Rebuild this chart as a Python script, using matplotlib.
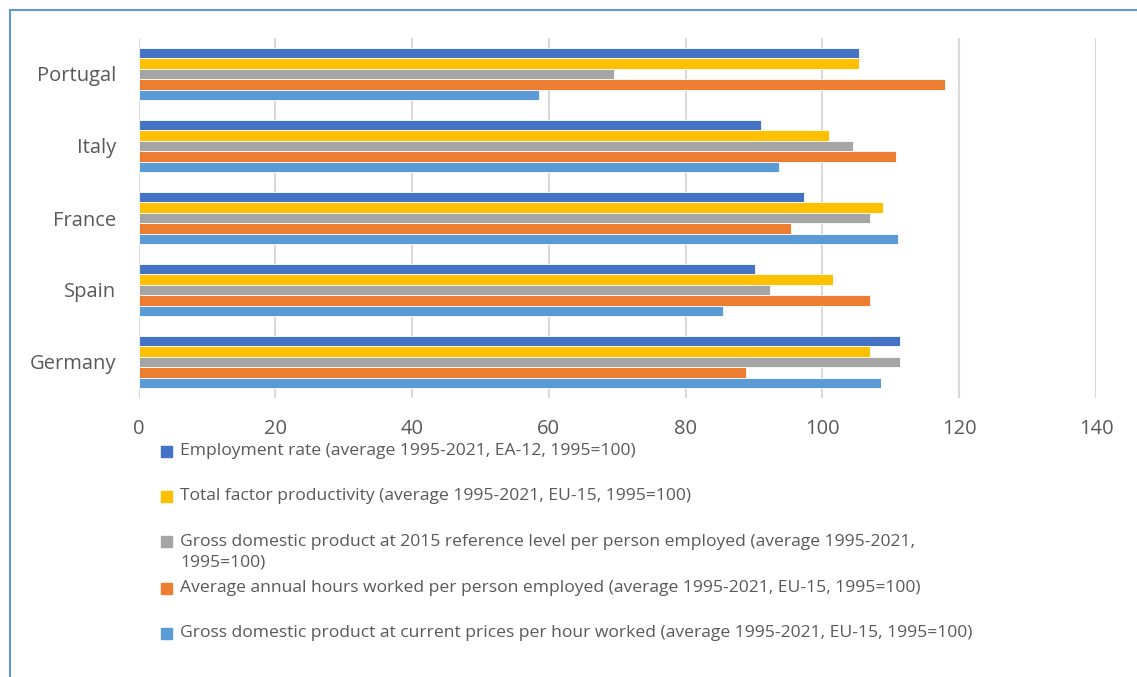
import matplotlib
matplotlib.use("Agg")
import matplotlib.pyplot as plt
import numpy as np
from matplotlib.patches import Rectangle
from matplotlib.lines import Line2D

countries = ["Germany", "Spain", "France", "Italy", "Portugal"]
employment = [111.3, 90.1, 97.3, 91.0, 105.4]
tfp = [107.0, 101.6, 108.8, 101.0, 105.4]
gdp_2015 = [111.3, 92.3, 107.0, 104.4, 69.5]
hours = [88.8, 107.0, 95.4, 110.7, 117.9]
gdp_current = [108.5, 85.4, 111.0, 93.6, 58.6]

series_labels = [
    "Employment rate (average 1995-2021, EA-12, 1995=100)",
    "Total factor productivity (average 1995-2021, EU-15, 1995=100)",
    "Gross domestic product at 2015 reference level per person employed (average 1995-2021,\n1995=100)",
    "Average annual hours worked per person employed (average 1995-2021, EU-15, 1995=100)",
    "Gross domestic product at current prices per hour worked (average 1995-2021, EU-15, 1995=100)",
]
colors = ["#4472C4", "#FFC000", "#A5A5A5", "#ED7D31", "#5B9BD5"]
xticks = [0, 20, 40, 60, 80, 100, 120, 140]

series = [employment, tfp, gdp_2015, hours, gdp_current]

plt.rcParams['font.family'] = ['Open Sans', 'DejaVu Sans']
fig = plt.figure(figsize=(11.37, 6.77), dpi=100)
W, H = 1137, 677
ax = fig.add_axes([138.5 / W, 1 - 398 / H, (1096 - 138.5) / W, 360 / H])

y = np.arange(len(countries))
bh = 0.144
n = len(series)
for i, (vals, c) in enumerate(zip(series, colors)):
    offs = (n - 1) / 2 * bh - i * bh
    ax.barh(y + offs, vals, height=bh, color=c, edgecolor="white", linewidth=0.6, zorder=3)

ax.set_xlim(0, 140)
ax.set_ylim(-0.5, len(countries) - 0.5)
ax.set_xticks(xticks)
ax.set_yticks(y)
ax.set_yticklabels(countries)
ax.grid(axis="x", color="#D9D9D9", linewidth=1.5, zorder=0)
for s in ax.spines.values():
    s.set_visible(False)
ax.tick_params(axis="both", length=0, labelcolor="#595959", labelsize=14.5)
ax.tick_params(axis="x", pad=15)
ax.tick_params(axis="y", pad=16)

# legend (manual layout to mimic the wrapped entries)
leg_y = [451, 496, 541, 588, 633]
for lab, c, yy in zip(series_labels, colors, leg_y):
    fig.patches.append(Rectangle((161 / W, 1 - (yy + 5.5) / H), 11 / W, 11 / H,
                                 transform=fig.transFigure, color=c))
    ty = 1 - (yy + 11) / H if "\n" in lab else 1 - yy / H
    fig.text(180 / W, ty, lab, ha="left", va="center",
             fontsize=12.6, color="#595959", linespacing=1.38)

# outer border (left and top visible)
fig.add_artist(Line2D([9.5 / W, 9.5 / W], [0, 1 - 9.5 / H], transform=fig.transFigure,
                      color="#5B9BD5", linewidth=1.5))
fig.add_artist(Line2D([9.5 / W, 1], [1 - 9.5 / H, 1 - 9.5 / H], transform=fig.transFigure,
                      color="#5B9BD5", linewidth=1.5))

fig.savefig("out.png", dpi=100)
